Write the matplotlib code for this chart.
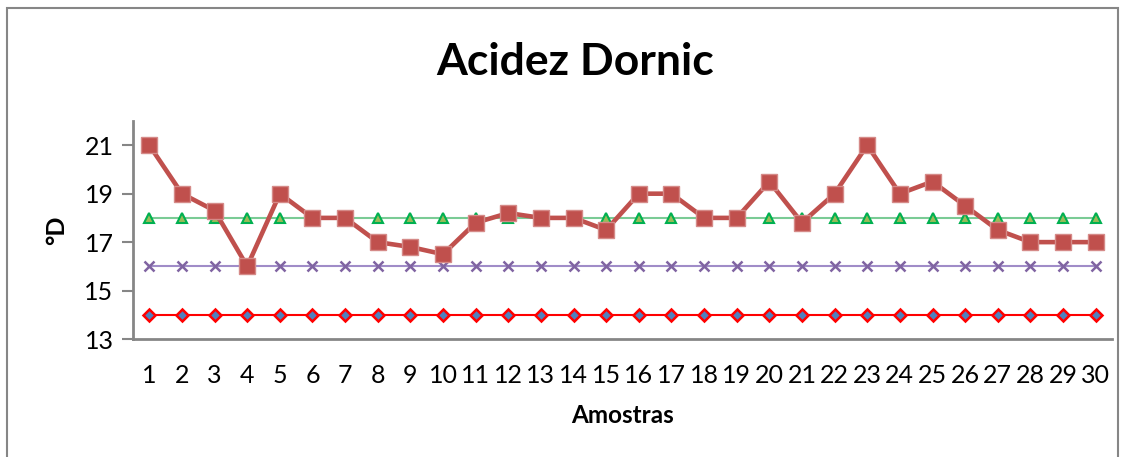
import numpy as np
import matplotlib
matplotlib.use("Agg")
from matplotlib import pyplot as plt
from matplotlib.patches import Rectangle

plt.rcParams['font.family'] = ['Lato', 'DejaVu Sans']

amostras = list(range(1, 31))
acidez = [21, 19, 18.3, 16, 19, 18, 18, 17, 16.8, 16.5,
          17.8, 18.2, 18, 18, 17.5, 19, 19, 18, 18, 19.5,
          17.8, 19, 21, 19, 19.5, 18.5, 17.5, 17, 17, 17]
limite_max = [18] * 30
limite_mid = [16] * 30
limite_min = [14] * 30
y_ticks = [13, 15, 17, 19, 21]

fig = plt.figure(figsize=(11.28, 4.57), dpi=100)
ax = fig.add_axes([0.1179, 0.2582, 0.8679, 0.4770])

ax.plot(amostras, limite_min, color="#FF0000", lw=1.5, marker="D", ms=6,
        mfc="#4F81BD", mec="#FF0000", mew=1.8, zorder=3)
ax.plot(amostras, limite_mid, color="#A08CC8", lw=1.5, marker="x", ms=7,
        mec="#8064A2", mew=1.8, zorder=3)
ax.plot(amostras, limite_max, color="#7ACB95", lw=1.5, marker="^", ms=7,
        mfc="#9BBB59", mec="#00B050", mew=1.5, zorder=3)
ax.plot(amostras, acidez, color="#C0504D", lw=3.3, marker="s", ms=11,
        mfc="#C0504D", mec="#D58A88", mew=1, zorder=4)

ax.set_xlim(0.5, 30.5)
ax.set_ylim(13, 22)
ax.set_yticks(y_ticks)
ax.set_xticks(amostras)
ax.tick_params(axis="y", length=8, width=1.5, color="#868686", labelsize=18, pad=6)
ax.tick_params(axis="x", length=0, labelsize=18, pad=18)
for s in ["top", "right"]:
    ax.spines[s].set_visible(False)
for s in ["left", "bottom"]:
    ax.spines[s].set_color("#868686")
    ax.spines[s].set_linewidth(2)

ax.set_xlabel("Amostras", fontsize=17.5, fontweight="bold", labelpad=12)
ax.set_ylabel("°D", fontsize=18, fontweight="bold", labelpad=12)
fig.text(575 / 1128, 0.865, "Acidez Dornic", ha="center", va="center",
         fontsize=32, fontweight="bold")

fig.patches.append(Rectangle((7 / 1128, -0.1), (1118 - 7) / 1128, 1.0 - 8 / 457 + 0.1,
                             transform=fig.transFigure, fill=False,
                             edgecolor="#868686", lw=1.5))

fig.savefig("out.png", dpi=100)
